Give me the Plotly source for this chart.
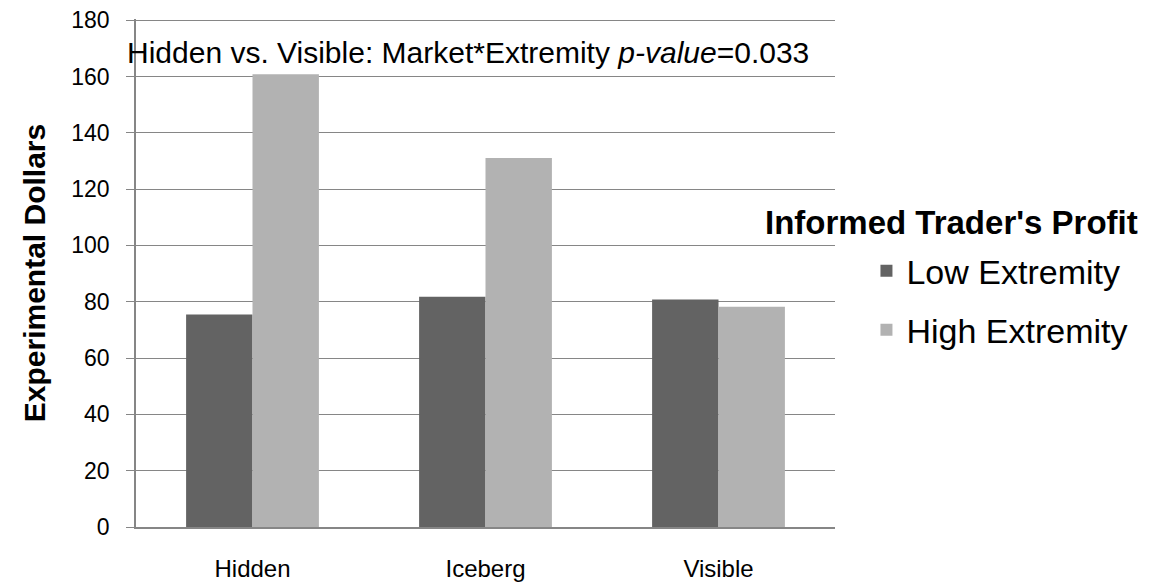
import plotly.graph_objects as go

# data
markets = ["Hidden", "Iceberg", "Visible"]
low_extremity = [75.5, 81.8, 80.8]
high_extremity = [160.8, 131.0, 78.2]
series_names = ["Low Extremity", "High Extremity"]
y_ticks = [0, 20, 40, 60, 80, 100, 120, 140, 160, 180]

FONT = "Liberation Sans, Arial, sans-serif"
GRID = "#868686"

fig = go.Figure()
fig.add_trace(go.Bar(x=markets, y=low_extremity, name=series_names[0], legendgroup="a",
                     marker=dict(color="#636363", line=dict(width=0))))
fig.add_trace(go.Bar(x=markets, y=high_extremity, name=series_names[1], legendgroup="b",
                     marker=dict(color="#b2b2b2", line=dict(width=0))))

# page body has an 8px margin, so shift everything up/left by 8
fig.update_layout(
    width=1160, height=582,
    margin=dict(l=128, r=333, t=11, b=63, autoexpand=False),
    paper_bgcolor="white", plot_bgcolor="white",
    font=dict(family=FONT, color="black"),
    barmode="group", bargap=0.43, bargroupgap=0,
    showlegend=True,
    legend=dict(x=1.045, y=(527 - 301) / 507, xanchor="left", yanchor="middle",
                font=dict(size=34), traceorder="grouped", tracegroupgap=12,
                itemwidth=30, bgcolor="rgba(0,0,0,0)"),
)

fig.update_xaxes(
    showline=True, linecolor=GRID, linewidth=1.5, automargin=False,
    showgrid=False, ticks="", tickfont=dict(size=24), ticklabelstandoff=19,
)
fig.update_yaxes(
    range=[0, 180.4], tickvals=y_ticks, automargin=False,
    showline=True, linecolor=GRID, linewidth=1.5,
    showgrid=True, gridcolor=GRID, gridwidth=1.3,
    ticks="outside", ticklen=8, tickcolor=GRID, tickwidth=1.3,
    tickfont=dict(size=23), ticklabelstandoff=12, ticklabeloverflow="allow",
    title=dict(text="<b>Experimental Dollars</b>", font=dict(size=30), standoff=17),
    zeroline=False,
)

fig.add_annotation(
    xref="paper", yref="paper", x=(125 - 136) / 699, y=(527 - 53) / 507,
    xanchor="left", yanchor="middle", showarrow=False,
    text="Hidden vs. Visible: Market*Extremity <i>p-value</i>=0.033",
    font=dict(size=30),
)
fig.add_annotation(
    xref="paper", yref="paper", x=(1140 - 136) / 699, y=(527 - 223) / 507,
    xanchor="right", yanchor="middle", showarrow=False,
    text="<b>Informed Trader's Profit</b>",
    font=dict(size=33),
)

fig.write_html("out.html")
